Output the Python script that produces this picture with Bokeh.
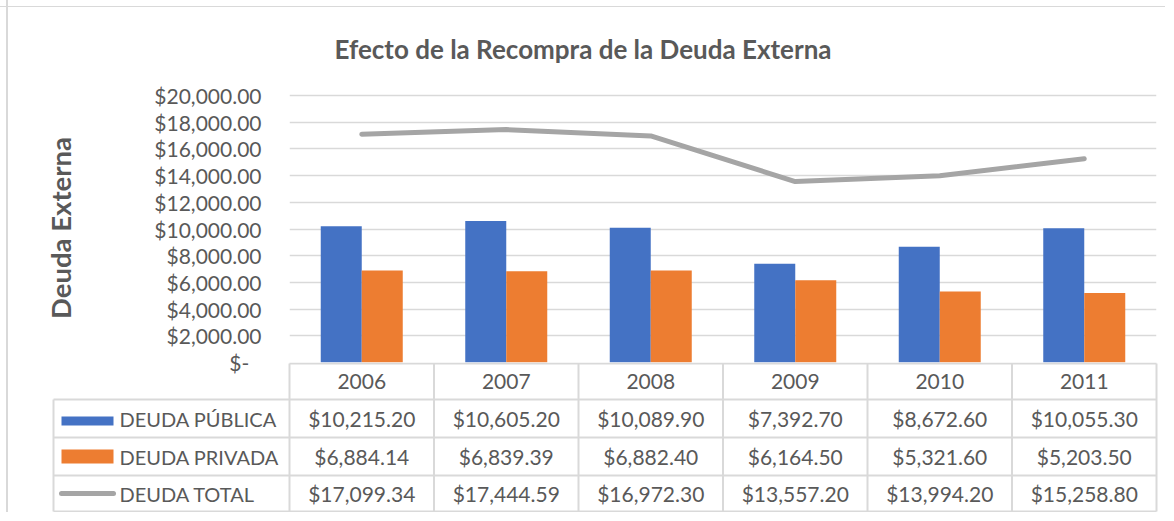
from bokeh.plotting import figure
from bokeh.layouts import column
from bokeh.models import Range1d, FixedTicker, CustomJSTickFormatter, ColumnDataSource
from bokeh.core.properties import value
from bokeh.transform import dodge
from bokeh.embed import file_html
from bokeh.resources import INLINE

# ---------------- data ----------------
years = ["2006", "2007", "2008", "2009", "2010", "2011"]
deuda_publica = [10215.20, 10605.20, 10089.90, 7392.70, 8672.60, 10055.30]
deuda_privada = [6884.14, 6839.39, 6882.40, 6164.50, 5321.60, 5203.50]
deuda_total = [17099.34, 17444.59, 16972.30, 13557.20, 13994.20, 15258.80]
series_names = ["DEUDA PÚBLICA", "DEUDA PRIVADA", "DEUDA TOTAL"]
y_ticks = [0, 2000, 4000, 6000, 8000, 10000, 12000, 14000, 16000, 18000, 20000]

# ---------------- style ----------------
BLUE = "#4472C4"
ORANGE = "#ED7D31"
GRAY = "#A5A5A5"
GRID = "#D9D9D9"
TEXT = "#595959"
FONT = "Lato"
COL_W = 144.5          # px per category column
BAR_W = 41 / COL_W     # bar width in category units
N = len(years)
OFF = 7                # compensation for page origin
OVERLAP = 14           # bottom room for the "$-" label, overlapped by the table

xs = [i + 0.5 for i in range(N)]
src = ColumnDataSource(dict(x=xs, pub=deuda_publica, priv=deuda_privada, tot=deuda_total))

# ---------------- chart ----------------
p = figure(width=1158 + OFF, height=355 + OFF + OVERLAP, x_range=Range1d(0, N),
           y_range=Range1d(0, 20150),
           output_backend="svg", toolbar_location=None, x_axis_location=None,
           min_border_left=282 + OFF, min_border_right=9, min_border_top=86 + OFF,
           min_border_bottom=OVERLAP, border_fill_color=None)
p.frame_align = False
p.title.text = "Efecto de la Recompra de la Deuda Externa"
p.title.align = "left"
p.title.offset = 45
p.title.standoff = 58
p.title.text_font = FONT
p.title.text_font_style = "bold"
p.title.text_font_size = "26px"
p.title.text_color = TEXT
p.outline_line_color = None
p.xgrid.visible = False
p.ygrid.grid_line_color = GRID
p.ygrid.grid_line_width = 1.3

p.yaxis.ticker = FixedTicker(ticks=y_ticks)
p.yaxis.formatter = CustomJSTickFormatter(code="""
if (tick == 0) { return "$-\u2007"; }
return "$" + tick.toLocaleString("en-US", {minimumFractionDigits: 2, maximumFractionDigits: 2});
""")
p.yaxis.axis_line_color = None
p.yaxis.major_tick_line_color = None
p.yaxis.minor_tick_line_color = None
p.yaxis.major_tick_out = 0
p.yaxis.major_tick_in = 0
p.yaxis.major_label_standoff = 28
p.yaxis.major_label_text_font = FONT
p.yaxis.major_label_text_font_size = "21px"
p.yaxis.major_label_text_color = TEXT
p.yaxis.axis_label = "Deuda Externa"
p.yaxis.axis_label_text_font = FONT
p.yaxis.axis_label_text_font_style = "bold"
p.yaxis.axis_label_text_font_size = "27.5px"
p.yaxis.axis_label_text_color = TEXT
p.yaxis.axis_label_standoff = 74

p.vbar(x=dodge("x", -BAR_W / 2), top="pub", width=BAR_W, source=src,
       fill_color=BLUE, line_color=None)
p.vbar(x=dodge("x", BAR_W / 2), top="priv", width=BAR_W, source=src,
       fill_color=ORANGE, line_color=None)
p.line("x", "tot", source=src, line_color=GRAY, line_width=5,
       line_cap="round", line_join="round")

# ---------------- data table ----------------
LEFT_PX = 282 + OFF
t = figure(width=1158 + OFF, height=150,
           x_range=Range1d(-LEFT_PX / COL_W, N + 2 / COL_W), y_range=Range1d(150, 0),
           output_backend="svg", toolbar_location=None,
           x_axis_location=None, y_axis_location=None,
           min_border_left=0, min_border_right=7, min_border_top=0, min_border_bottom=0,
           border_fill_color=None, background_fill_color=None,
           styles={"margin-top": f"-{OVERLAP}px"})
t.frame_align = False
t.grid.visible = False
t.outline_line_color = None

row_edges = [1, 37, 75, 113, 149]
row_centers = [(row_edges[k] + row_edges[k + 1]) / 2 for k in range(len(row_edges) - 1)]
leg_left = (54 - 290) / COL_W

x0, y0, x1, y1 = [], [], [], []
x0.append(0); x1.append(N); y0.append(row_edges[0]); y1.append(row_edges[0])
for e in row_edges[1:]:
    x0.append(leg_left); x1.append(N); y0.append(e); y1.append(e)
for i in range(N + 1):
    x0.append(i); x1.append(i); y0.append(row_edges[0]); y1.append(row_edges[-1])
x0.append(leg_left); x1.append(leg_left); y0.append(row_edges[1]); y1.append(row_edges[-1])
t.segment(x0=x0, y0=y0, x1=x1, y1=y1, line_color=GRID, line_width=2)

txt = dict(text_font=value(FONT), text_font_size="21px", text_color=TEXT,
           text_baseline="middle")
t.text(x=xs, y=[row_centers[0]] * N, text=years, text_align="center", **txt)

all_series = [deuda_publica, deuda_privada, deuda_total]
for r, vals in enumerate(all_series):
    labels = ["$" + f"{v:,.2f}" for v in vals]
    t.text(x=xs, y=[row_centers[r + 1]] * N, text=labels, text_align="center", **txt)

# legend keys + names
key_l = (62 - 290) / COL_W
key_r = (114 - 290) / COL_W
t.quad(left=[key_l], right=[key_r], top=[row_centers[1] - 2], bottom=[row_centers[1] + 7],
       fill_color=BLUE, line_color=None)
t.quad(left=[key_l], right=[key_r], top=[row_centers[2] - 7], bottom=[row_centers[2] + 7],
       fill_color=ORANGE, line_color=None)
t.line(x=[(62 - 290) / COL_W, (114 - 290) / COL_W],
       y=[row_centers[3], row_centers[3]], line_color=GRAY, line_width=5, line_cap="round")
t.text(x=[(120 - 290) / COL_W] * 3, y=row_centers[1:], text=series_names,
       text_align="left", text_font=value(FONT), text_font_size="20px",
       text_color=TEXT, text_baseline="middle")

bg = ("linear-gradient(to right, transparent 6px, #D9D9D9 6px, #D9D9D9 8px, transparent 8px), "
      "linear-gradient(to bottom, transparent 6px, #D9D9D9 6px, #D9D9D9 7px, transparent 7px)")
layout = column(p, t, styles={"background": bg})
open("out.html", "w").write(file_html(layout, INLINE))
